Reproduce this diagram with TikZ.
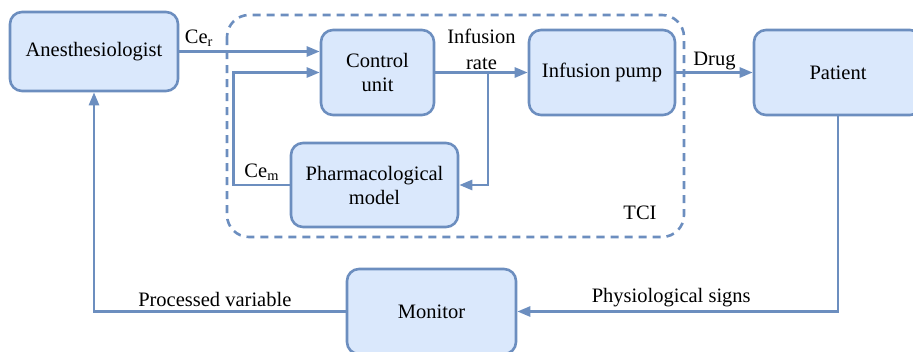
\documentclass[tikz,border=0pt]{standalone}
\usepackage{fontspec}
\setmainfont{LiberationSerif}[Extension=.ttf,UprightFont=*-Regular,BoldFont=*-Bold]
\usetikzlibrary{arrows.meta,positioning,calc}
\definecolor{lineblue}{RGB}{108,142,191}
\definecolor{fillblue}{RGB}{218,232,252}
\begin{document}
\begin{tikzpicture}[x=1pt,y=-1pt,>={Triangle[length=13pt,width=10pt]},
 every node/.style={font=\rmfamily\fontsize{20.5}{24}\selectfont},
 blk/.style={draw=lineblue,fill=fillblue,line width=2.6pt,rounded corners=12pt,align=center,inner sep=2pt},
 flow/.style={draw=lineblue,line width=2.6pt,->},
 tci/.style={draw=lineblue,line width=2.6pt,dashed,dash pattern=on 8pt off 6pt,rounded corners=22pt}]
\useasboundingbox (0,0) rectangle (913,351);
\draw[tci](227,15) rectangle (684,237);
\node[blk,minimum width=168pt,minimum height=79pt](anes)at(94,51.5){Anesthesiologist};
\node[blk,minimum width=113pt,minimum height=85pt](ctrl)at(377.5,72.5){Control\\unit};
\node[blk,minimum width=146pt,minimum height=85pt](pump)at(602,72.5){Infusion pump};
\node[blk,minimum width=168pt,minimum height=85pt](pat)at(838,72.5){Patient};
\node[blk,minimum width=167pt,minimum height=84pt](pharm)at(374.5,185){Pharmacological\\model};
\node[blk,minimum width=169pt,minimum height=85pt](mon)at(431.5,311.5){Monitor};
\coordinate(br)at(488,72.5);
\draw[flow](anes.east)--node[pos=0.14,above]{Ce\textsubscript{r}}(anes.east-|ctrl.west);
\draw[flow](pharm.west)--node[midway,above]{Ce\textsubscript{m}}++(-56,0)|-(ctrl.west);
\draw[flow](ctrl.east)--node[midway,above,align=center,yshift=-2pt,font=\rmfamily\fontsize{20.5}{26}\selectfont]{Infusion\\rate}(pump.west);
\draw[flow](br)|-(pharm.east);
\draw[flow](pump.east)--node[midway,above,yshift=-2pt]{Drug}(pat.west);
\draw[flow](pat.south)|-node[pos=0.76,above]{Physiological signs}(mon.east);
\draw[flow](mon.west)-|node[pos=0.26,above]{Processed variable}(anes.south);
\node(tcil)at(640,213){TCI};
\end{tikzpicture}
\end{document}
